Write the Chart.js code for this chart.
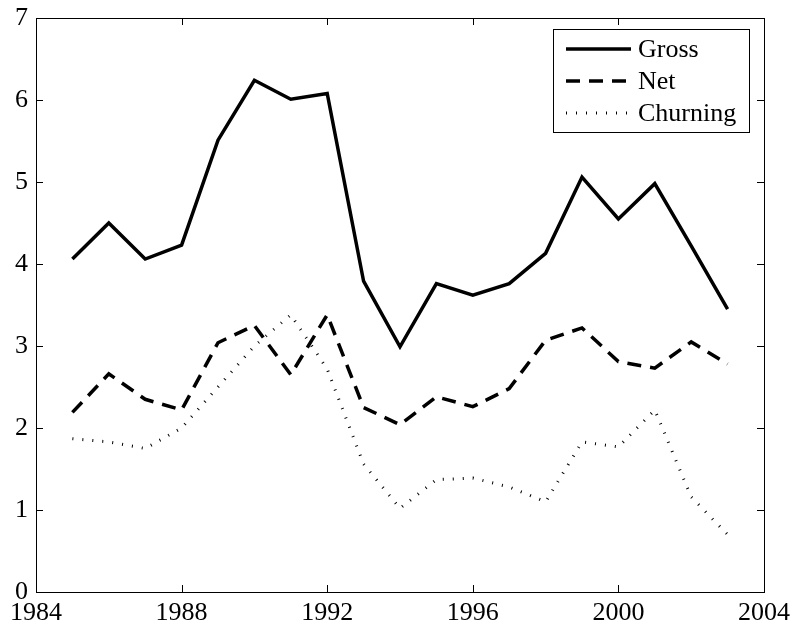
<!DOCTYPE html>
<html>
<head>
<meta charset="utf-8">
<script src="https://cdn.jsdelivr.net/npm/chart.js@4"></script>
<style>
	html, body { margin: 0; padding: 0; background: #fff; }
	#wrap { width: 793px; height: 628px; }
</style>
</head>
<body>
<div id="wrap"><canvas id="chart" width="793" height="628"></canvas></div>
<script>
(function () {

	'use strict';

	var years    = [1985, 1986, 1987, 1988, 1989, 1990, 1991, 1992, 1993, 1994, 1995, 1996, 1997, 1998, 1999, 2000, 2001, 2002, 2003];
	var gross    = [4.06, 4.50, 4.06, 4.23, 5.51, 6.24, 6.01, 6.08, 3.79, 2.99, 3.76, 3.62, 3.76, 4.13, 5.06, 4.55, 4.98, 4.22, 3.45];
	var net      = [2.19, 2.66, 2.35, 2.22, 3.04, 3.25, 2.65, 3.38, 2.25, 2.04, 2.38, 2.26, 2.48, 3.07, 3.22, 2.81, 2.73, 3.05, 2.78];
	var churning = [1.87, 1.83, 1.75, 2.00, 2.50, 3.00, 3.38, 2.72, 1.56, 1.02, 1.37, 1.39, 1.28, 1.10, 1.83, 1.77, 2.22, 1.16, 0.70];

	var xTicks = [1984, 1988, 1992, 1996, 2000, 2004];
	var yTicks = [0, 1, 2, 3, 4, 5, 6, 7];

	var serif = '"Liberation Serif", serif';

	function points(values) {
		return years.map(function (y, i) {
			return { x: y, y: values[i] };
		});
	}

	// matlab style box with inward ticks, plus the boxed legend
	var boxPlugin = {
		id: 'box',
		afterDatasetsDraw: function (chart) {
			var ctx = chart.ctx;
			var a = chart.chartArea;
			var xs = chart.scales.x;
			var ys = chart.scales.y;
			var len = 7;

			ctx.save();
			ctx.strokeStyle = '#000';
			ctx.lineWidth = 1;
			ctx.setLineDash([]);
			ctx.strokeRect(a.left + 0.5, a.top + 0.5, a.right - a.left, a.bottom - a.top);

			ctx.beginPath();
			xTicks.forEach(function (v) {
				var px = Math.round(xs.getPixelForValue(v)) + 0.5;
				ctx.moveTo(px, a.bottom); ctx.lineTo(px, a.bottom - len);
				ctx.moveTo(px, a.top);    ctx.lineTo(px, a.top + len);
			});
			yTicks.forEach(function (v) {
				var py = Math.round(ys.getPixelForValue(v)) + 0.5;
				ctx.moveTo(a.left, py);  ctx.lineTo(a.left + len, py);
				ctx.moveTo(a.right, py); ctx.lineTo(a.right - len, py);
			});
			ctx.stroke();

			// legend
			var bx = a.right - 211, by = a.top + 11, bw = 196, bh = 103;
			ctx.fillStyle = '#fff';
			ctx.fillRect(bx, by, bw, bh);
			ctx.strokeRect(bx + 0.5, by + 0.5, bw, bh);

			ctx.font = '26px ' + serif;
			ctx.textBaseline = 'middle';
			chart.data.datasets.forEach(function (ds, i) {
				var ry = by + 20 + i * 32;
				ctx.beginPath();
				ctx.lineWidth = ds.borderWidth;
				ctx.setLineDash(ds.borderDash || []);
				ctx.strokeStyle = ds.borderColor;
				ctx.moveTo(bx + 13, ry);
				ctx.lineTo(bx + 78, ry);
				ctx.stroke();
				ctx.setLineDash([]);
				ctx.fillStyle = '#000';
				ctx.fillText(ds.label, bx + 85, ry + 1);
			});
			ctx.restore();
		}
	};

	new Chart(document.getElementById('chart'), {
		type: 'line',
		data: {
			datasets: [{
				label: 'Gross',
				data: points(gross),
				borderColor: '#000',
				borderWidth: 3.5,
				pointRadius: 0,
				tension: 0
			}, {
				label: 'Net',
				data: points(net),
				borderColor: '#000',
				borderWidth: 3.5,
				borderDash: [14, 9],
				pointRadius: 0,
				tension: 0
			}, {
				label: 'Churning',
				data: points(churning),
				borderColor: '#000',
				borderWidth: 3,
				borderDash: [1, 9],
				borderCapStyle: 'butt',
				pointRadius: 0,
				tension: 0
			}]
		},
		options: {
			responsive: false,
			animation: false,
			layout: { padding: { top: 18, right: 29, left: 0, bottom: 0 } },
			plugins: {
				legend: { display: false },
				tooltip: { enabled: false }
			},
			scales: {
				x: {
					type: 'linear',
					min: 1984,
					max: 2004,
					grid: { display: false, drawTicks: false },
					border: { display: false },
					afterBuildTicks: function (scale) {
						scale.ticks = xTicks.map(function (v) { return { value: v }; });
					},
					afterFit: function (scale) {
						scale.height = 36;
						scale.paddingLeft = 0;
						scale.paddingRight = 0;
					},
					ticks: {
						color: '#000',
						padding: 6,
						maxRotation: 0,
						autoSkip: false,
						font: { family: serif, size: 26 },
						callback: function (v) { return String(v); }
					}
				},
				y: {
					min: 0,
					max: 7,
					grid: { display: false, drawTicks: false },
					border: { display: false },
					afterBuildTicks: function (scale) {
						scale.ticks = yTicks.map(function (v) { return { value: v }; });
					},
					afterFit: function (scale) {
						scale.width = 36;
						scale.paddingTop = 0;
						scale.paddingBottom = 0;
					},
					ticks: {
						color: '#000',
						padding: 8,
						font: { family: serif, size: 26 },
						callback: function (v) { return String(v); }
					}
				}
			}
		},
		plugins: [boxPlugin]
	});

})();
</script>
</body>
</html>
